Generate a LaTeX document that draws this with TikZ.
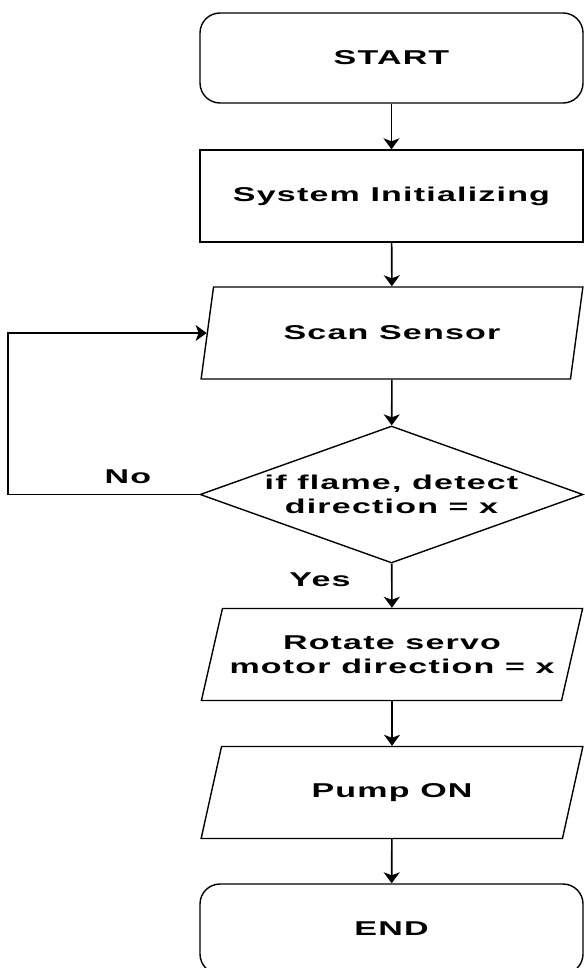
\documentclass[tikz,border=0pt]{standalone}
\usepackage{fontspec}
\setmainfont[FakeStretch=1.7, LetterSpace=6]{Liberation Sans}
\usetikzlibrary{arrows.meta, shapes.geometric}

\begin{document}
\begin{tikzpicture}[x=0.5pt, y=-0.5pt,
    every node/.style={font=\bfseries, align=center},
    box/.style={draw, line width=0.7pt, minimum width=191.5pt, minimum height=46pt, inner sep=0pt},
    terminal/.style={box, rounded corners=10pt, minimum height=45pt},
    io/.style={box, trapezium, trapezium left angle=62, trapezium right angle=118,
      trapezium stretches=true, minimum width=191pt},
    decision/.style={box, diamond, aspect=2.8, minimum height=68.5pt},
    flow/.style={line width=0.8pt, -{Stealth[length=5.5pt, width=8pt, inset=1.5pt]}}]
    \useasboundingbox (0,0) rectangle (584,968);

    % main column
    \node[terminal] (start) at (391.5,58) {START};
    \node[box] (init) at (391.5,196) {System Initializing};
    \node[io] (scan) at (392,333) {Scan Sensor};
    \node[decision] (decide) at (391.5,494.5) {if flame, detect\\direction = x};
    \node[io] (rotate) at (392,654.5) {Rotate servo\\motor direction = x};
    \node[io] (pump) at (392,792.5) {Pump ON};
    \node[terminal] (finish) at (391.5,929) {END};

    \draw[flow] (start) -- (init);
    \draw[flow] (init) -- (scan);
    \draw[flow] (scan) -- (decide);
    \draw[flow] (decide) -- (rotate);
    \draw[flow] (rotate) -- (pump);
    \draw[flow] (pump) -- (finish);

    % no flame: back to the sensor scan
    \coordinate (turn) at (8,494.5);
    \draw[flow] (decide.west) -- (turn) |- (scan.left side);
    \node (nolabel) at (128,477) {No};
    \node (yeslabel) at (320,580) {Yes};
  \end{tikzpicture}
\end{document}
